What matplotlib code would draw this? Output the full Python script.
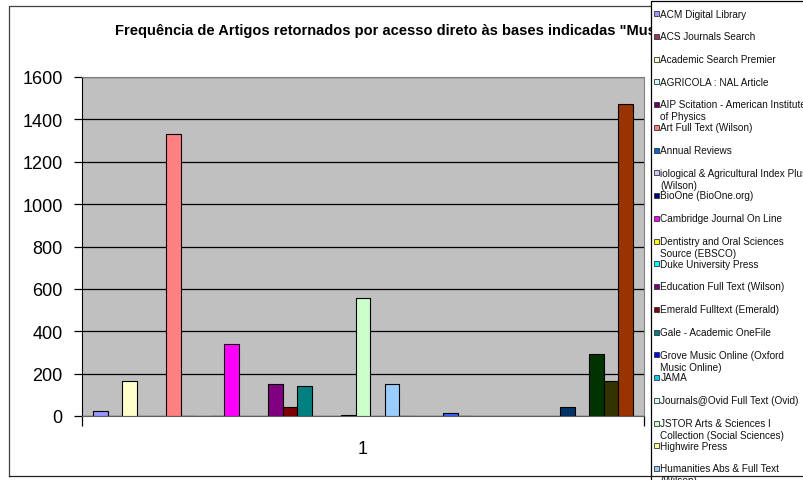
import matplotlib
matplotlib.use("Agg")
import matplotlib.pyplot as plt
from matplotlib.patches import Rectangle
import numpy as np

plt.rcParams['font.family'] = ['Liberation Sans', 'DejaVu Sans']

# --- dati (uma categoria, 37 séries) ---
titulo = 'Frequência de Artigos retornados por acesso direto às bases indicadas "Mus'
categoria = ["1"]

valores = [25, 0, 165, 0, 0, 1330, 2, 0, 2, 338,
           0, 0, 150, 41, 140, 0, 0, 4, 555, 0,
           152, 2, 0, 0, 16, 2, 0, 0, 0, 0,
           0, 0, 43, 0, 292, 163, 1473]

# paleta padrão do Excel (ordem das séries)
cores = ["#9999FF", "#993366", "#FFFFCC", "#CCFFFF", "#660066", "#FF8080", "#0066CC", "#CCCCFF",
         "#000080", "#FF00FF", "#FFFF00", "#00FFFF", "#800080", "#800000", "#008080", "#0000FF",
         "#00CCFF", "#CCFFFF", "#CCFFCC", "#FFFF99", "#99CCFF", "#FF99CC", "#CC99FF", "#FFCC99",
         "#3366FF", "#33CCCC", "#99CC00", "#FFCC00", "#FF9900", "#FF6600", "#666699", "#969696",
         "#003366", "#339966", "#003300", "#333300", "#993300"]

# legenda visível (cortada na imagem original)
bases = ["ACM Digital Library",
         "ACS Journals Search",
         "Academic Search Premier",
         "AGRICOLA : NAL Article",
         "AIP Scitation - American Institute\nof Physics",
         "Art Full Text (Wilson)",
         "Annual Reviews",
         "iological & Agricultural Index Plus\n(Wilson)",
         "BioOne (BioOne.org)",
         "Cambridge Journal On Line",
         "Dentistry and Oral Sciences\nSource (EBSCO)",
         "Duke University Press",
         "Education Full Text (Wilson)",
         "Emerald Fulltext (Emerald)",
         "Gale - Academic OneFile",
         "Grove Music Online (Oxford\nMusic Online)",
         "JAMA",
         "Journals@Ovid Full Text (Ovid)",
         "JSTOR Arts & Sciences I\nCollection (Social Sciences)",
         "Highwire Press",
         "Humanities Abs & Full Text\n(Wilson)"]

yticks = [0, 200, 400, 600, 800, 1000, 1200, 1400, 1600]

W, H = 804, 481
fig = plt.figure(figsize=(W / 100, H / 100), dpi=100, facecolor='white')

# --- área do gráfico ---
ax = fig.add_axes([82 / W, (H - 417) / H, 562 / W, 339 / H])
ax.set_facecolor('#C0C0C0')

n = len(valores)
largura = 1.0 / (n + 1.5)   # gap width 150% como no Excel
pos = np.arange(n) * largura - (n - 1) * largura / 2
lw = [0.8 if v > 0 else 0 for v in valores]
ax.bar(pos, valores, width=largura, color=cores, edgecolor='black', linewidth=lw, zorder=3)

ax.set_xlim(-0.5, 0.5)
ax.set_ylim(0, 1600)
ax.set_yticks(yticks)
ax.set_yticklabels([str(t) for t in yticks], fontsize=13)
ax.yaxis.grid(True, color='black', linewidth=0.9, zorder=1)
ax.set_axisbelow(True)
ax.tick_params(axis='y', length=6, width=0.9, direction='out', pad=8, colors='black')

ax.set_xticks([0])
ax.set_xticklabels(categoria, fontsize=13)
ax.set_xticks([-0.5, 0.5], minor=True)
ax.tick_params(axis='x', which='major', length=0, pad=17)
ax.tick_params(axis='x', which='minor', length=7, width=0.9)

for s in ['top', 'right']:
    ax.spines[s].set_color('#808080')
ax.spines['left'].set_color('black')
ax.spines['bottom'].set_color('#606060')

# --- camada de sobreposição em pixels: título, legenda, moldura ---
lay = fig.add_axes([0, 0, 1, 1])
lay.set_xlim(0, W)
lay.set_ylim(H, 0)
lay.axis('off')
lay.patch.set_alpha(0)

lay.text(115, 31, titulo, fontsize=10.5, fontweight='bold', ha='left', va='center', zorder=1)

# caixa da legenda
lay.add_patch(Rectangle((651, 2), 200, 500, facecolor='white', edgecolor='black',
                        linewidth=0.9, zorder=2))
for k, nome in enumerate(bases):
    y0 = 14.5 + 22.75 * k
    lay.add_patch(Rectangle((654.5, y0 - 2.5), 5, 5, facecolor=cores[k],
                            edgecolor='#333333', linewidth=0.6, zorder=3))
    for j, linha in enumerate(nome.split("\n")):
        lay.text(660.5, y0 + 11.8 * j, linha, fontsize=7.2, ha='left', va='center',
                 color='#111111', zorder=3)

# moldura externa do gráfico
lay.plot([9, 9, 651], [477, 7, 7], color='#404040', linewidth=0.9, zorder=1)
lay.plot([9, W], [477, 477], color='#202020', linewidth=0.9, zorder=4)

fig.savefig("out.png", dpi=100, facecolor='white')
